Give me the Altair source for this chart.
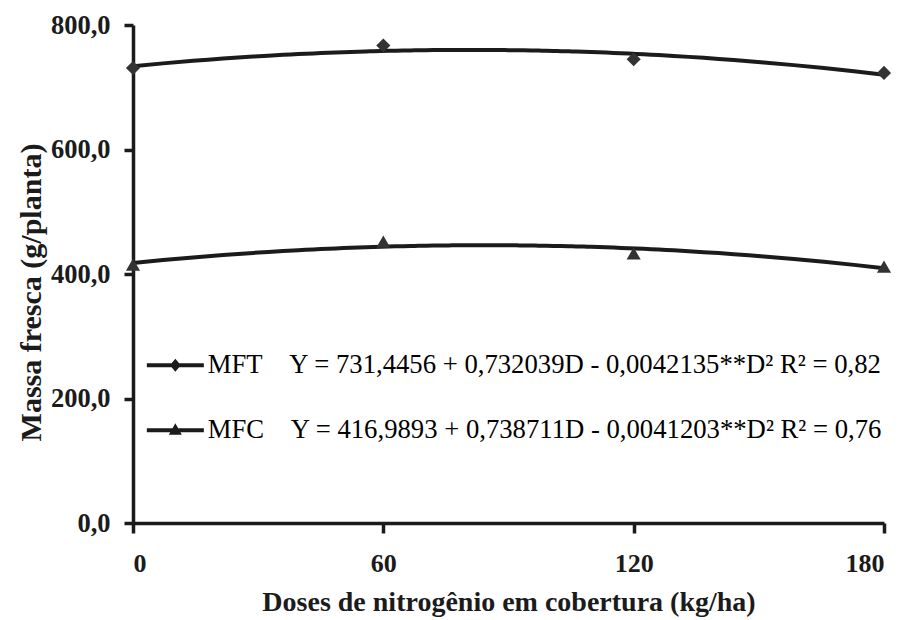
import altair as alt
import pandas as pd

doses = [0, 60, 120, 180]
mft = [731, 767, 745, 723]
mfc = [415, 452, 433, 412]
series = ["MFT", "MFC"]
equations = [
    "Y = 731,4456 + 0,732039D - 0,0042135**D² R² = 0,82",
    "Y = 416,9893 + 0,738711D - 0,0041203**D² R² = 0,76",
]
x_ticks = [0, 60, 120, 180]
y_ticks = [0, 200, 400, 600, 800]

rows = []
for d, v in zip(doses, mft):
    rows.append({"dose": d, "value": v, "serie": "MFT"})
for d, v in zip(doses, mfc):
    rows.append({"dose": d, "value": v, "serie": "MFC"})
df = pd.DataFrame(rows)

FONT = "Liberation Serif"
INK = "#1b1b1b"
NB = "\u00a0"

xenc = alt.X(
    "dose:Q",
    scale=alt.Scale(domain=[0, 180], nice=False, zero=False),
    axis=alt.Axis(
        values=x_ticks,
        title="Doses de nitrogênio em cobertura (kg/ha)",
        grid=False,
        domainColor=INK, domainWidth=3.5,
        tickColor=INK, tickWidth=3.5, tickSize=10,
        labelFont=FONT, labelFontSize=26, labelFontWeight="bold", labelColor=INK,
        labelPadding=17,
        titleFont=FONT, titleFontSize=28, titleFontWeight="bold", titleColor=INK,
        titlePadding=12,
    ),
)
yenc = alt.Y(
    "value:Q",
    scale=alt.Scale(domain=[0, 800], nice=False),
    axis=alt.Axis(
        values=y_ticks,
        labelExpr="replace(format(datum.value, '.1f'), '.', ',')",
        title="Massa fresca (g/planta)",
        grid=False,
        domainColor=INK, domainWidth=3.5,
        tickColor=INK, tickWidth=3.5, tickSize=9,
        labelFont=FONT, labelFontSize=26.5, labelFontWeight="bold", labelColor=INK,
        labelPadding=14,
        titleFont=FONT, titleFontSize=30, titleFontWeight="bold", titleColor=INK,
        titlePadding=4,
        titleY=267,
    ),
)

base = alt.Chart(df)

curves = base.transform_regression(
    "dose", "value", groupby=["serie"], method="poly", order=2, extent=[0, 180]
).mark_line(color=INK, strokeWidth=4).encode(x=xenc, y=yenc, detail="serie:N")

points = base.mark_point(filled=True, color="#333333", opacity=1, size=200).encode(
    x="dose:Q",
    y="value:Q",
    shape=alt.Shape(
        "serie:N",
        scale=alt.Scale(domain=series, range=["diamond", "triangle-up"]),
        legend=None,
    ),
)

label_expr = " : ".join(
    [f"datum.label == '{s}' ? '{s}{NB*4}{e}'" for s, e in zip(series, equations)]
) + " : datum.label"

diamond_path = "M-2.85,-0.2H2.85V0.2H-2.85Z M0,-0.65L0.55,0L0,0.65L-0.55,0Z"
triangle_path = "M-2.85,-0.2H2.85V0.2H-2.85Z M0,-0.7L0.65,0.45L-0.65,0.45Z"

legend_layer = base.transform_filter("datum.dose < 0").mark_point(
    filled=True, color=INK, opacity=1, size=400
).encode(
    x="dose:Q",
    y="value:Q",
    shape=alt.Shape(
        "serie:N",
        scale=alt.Scale(domain=series, range=[diamond_path, triangle_path]),
        legend=alt.Legend(
            title=None,
            orient="none",
            legendX=29,
            legendY=327,
            direction="vertical",
            padding=0,
            rowPadding=37,
            labelOffset=19,
            labelFont=FONT,
            labelFontSize=26.7,
            labelColor="#000000",
            labelLimit=900,
            labelExpr=label_expr,
            symbolFillColor=INK,
            symbolStrokeColor=INK,
            symbolStrokeWidth=0,
            symbolSize=400,
        ),
    ),
)

chart = alt.layer(curves, points, legend_layer).resolve_scale(
    shape="independent"
).properties(
    width=751,
    height=498,
    padding={"left": 133, "top": 25, "right": 23, "bottom": 97},
    autosize=alt.AutoSizeParams(type="none"),
    background="white",
).configure_view(stroke=None)

chart.save("out.html", embed_options={"renderer": "svg", "actions": False})
